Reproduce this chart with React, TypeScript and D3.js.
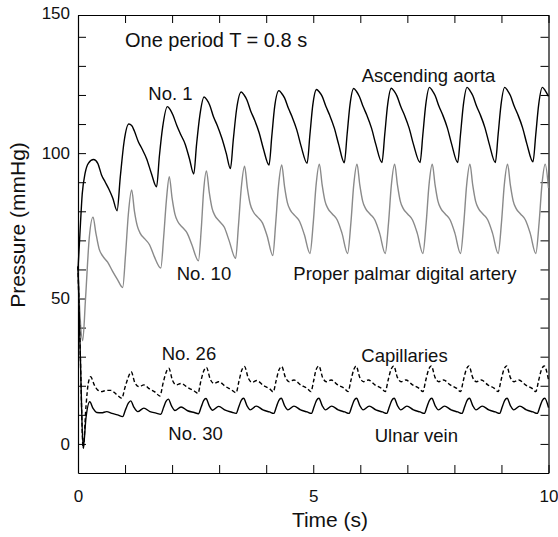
import * as d3 from "d3";
import { useEffect, useRef } from "react";

// Ascending aorta (No. 1), [time s, pressure mmHg]
const aorta: [number, number][] = [
  [0, 60], [0.04, 72], [0.09, 86], [0.15, 93], [0.22, 96.5], [0.33, 97.8], [0.42, 96.5], [0.5, 92.5], [0.58, 90], [0.66, 87.5], [0.74, 84.5], [0.83, 80.2],
  [0.9, 92], [0.98, 104], [1.08, 110], [1.14, 109.5], [1.2, 107.5], [1.28, 104], [1.36, 101.5], [1.46, 98], [1.56, 93], [1.67, 88.4],
  [1.73, 99], [1.8, 109], [1.9, 116], [1.96, 115], [2.02, 113], [2.1, 109.5], [2.18, 106.5], [2.28, 103], [2.37, 98], [2.46, 92.8],
  [2.52, 103], [2.59, 113], [2.68, 119.3], [2.74, 118.3], [2.8, 116.5], [2.88, 112.5], [2.96, 109.5], [3.06, 105], [3.15, 100], [3.24, 94.7],
  [3.3, 104.5], [3.37, 115], [3.47, 121], [3.53, 120], [3.59, 118.3], [3.67, 114.5], [3.75, 111.5], [3.85, 107], [3.94, 101.5], [4.06, 95.9],
  [4.12, 106], [4.18, 116], [4.27, 121.5], [4.33, 120.5], [4.39, 119], [4.47, 115.5], [4.55, 112.5], [4.65, 108], [4.74, 102.5], [4.87, 96.5],
  [4.93, 106.5], [4.99, 116.5], [5.07, 121.9], [5.13, 121], [5.19, 119.5], [5.27, 116], [5.35, 113], [5.45, 108.5], [5.54, 103], [5.66, 96.7],
  [5.72, 106.5], [5.78, 116.5], [5.86, 122.2], [5.92, 121.2], [5.98, 119.5], [6.06, 116], [6.14, 113], [6.24, 108.5], [6.33, 103], [6.46, 96.8],
  [6.52, 106.5], [6.58, 116.5], [6.66, 122.3], [6.72, 121.3], [6.78, 119.6], [6.86, 116], [6.94, 113], [7.04, 108.5], [7.13, 103], [7.27, 96.8],
  [7.33, 106.5], [7.39, 116.5], [7.47, 122.6], [7.53, 121.5], [7.59, 119.8], [7.67, 116.2], [7.75, 113.2], [7.85, 108.7], [7.94, 103.2], [8.07, 96.8],
  [8.13, 106.5], [8.19, 116.5], [8.27, 122.6], [8.33, 121.5], [8.39, 119.8], [8.47, 116.2], [8.55, 113.2], [8.65, 108.7], [8.74, 103.2], [8.87, 96.8],
  [8.93, 106.5], [8.99, 116.5], [9.07, 122.6], [9.13, 121.5], [9.19, 119.8], [9.27, 116.2], [9.35, 113.2], [9.45, 108.7], [9.54, 103.2], [9.67, 97],
  [9.73, 106.5], [9.79, 116.5], [9.87, 122.6], [9.93, 121.5], [10, 119.5],
];

// Proper palmar digital artery (No. 10)
const palmar: [number, number][] = [
  [0, 60], [0.04, 45], [0.1, 35.5], [0.16, 50], [0.24, 71], [0.32, 78], [0.38, 72.5], [0.45, 67], [0.53, 64.5], [0.63, 62.5], [0.73, 59.5], [0.84, 56.5], [0.95, 53.8],
  [1.01, 65], [1.07, 79], [1.14, 87.3], [1.2, 80], [1.26, 75], [1.32, 72.5], [1.42, 70.5], [1.52, 68.5], [1.62, 64.5], [1.76, 60.5],
  [1.82, 71], [1.88, 84], [1.94, 91.9], [2.0, 84.5], [2.06, 79], [2.12, 76.5], [2.22, 74.5], [2.32, 72.5], [2.42, 68.5], [2.56, 63],
  [2.62, 74], [2.67, 87], [2.73, 93.9], [2.79, 86.5], [2.85, 81], [2.91, 78.5], [3.01, 76.5], [3.11, 74.5], [3.21, 70], [3.35, 63.8],
  [3.41, 75], [3.47, 88], [3.54, 95.5], [3.6, 88], [3.66, 82.5], [3.72, 80], [3.82, 78], [3.92, 76], [4.02, 71.5], [4.14, 64.8],
  [4.2, 75.5], [4.26, 88.5], [4.33, 95.9], [4.39, 88.5], [4.45, 83], [4.51, 80.5], [4.61, 78.5], [4.71, 76.5], [4.81, 72], [4.93, 65.5],
  [5.0, 76], [5.06, 89], [5.13, 96.2], [5.19, 89], [5.25, 83.5], [5.31, 81], [5.41, 79], [5.51, 77], [5.61, 72.5], [5.73, 65.5],
  [5.8, 76], [5.86, 89], [5.93, 96.2], [5.99, 89], [6.05, 83.5], [6.11, 81], [6.21, 79], [6.31, 77], [6.41, 72.5], [6.53, 65.5],
  [6.6, 76], [6.66, 89], [6.73, 96.2], [6.79, 89], [6.85, 83.5], [6.91, 81], [7.01, 79], [7.11, 77], [7.21, 72.5], [7.33, 65.5],
  [7.4, 76], [7.46, 89], [7.53, 96.2], [7.59, 89], [7.65, 83.5], [7.71, 81], [7.81, 79], [7.91, 77], [8.01, 72.5], [8.13, 65.5],
  [8.2, 76], [8.26, 89], [8.33, 96.2], [8.39, 89], [8.45, 83.5], [8.51, 81], [8.61, 79], [8.71, 77], [8.81, 72.5], [8.93, 65.5],
  [9.0, 76], [9.06, 89], [9.13, 96.2], [9.19, 89], [9.25, 83.5], [9.31, 81], [9.41, 79], [9.51, 77], [9.61, 72.5], [9.73, 65.5],
  [9.8, 76], [9.86, 89], [9.93, 96.2], [10, 88],
];

// Capillaries (No. 26)
const capillaries: [number, number][] = [
  [0, 61], [0.05, 30], [0.11, -1.5], [0.17, 13], [0.22, 21], [0.27, 23.1], [0.34, 20.5], [0.42, 18.5], [0.5, 18], [0.6, 18.4], [0.7, 18.4], [0.82, 17], [0.93, 15.7],
  [1.0, 19.5], [1.07, 23], [1.13, 24.8], [1.21, 21], [1.3, 19.7], [1.4, 20.3], [1.52, 18.9], [1.64, 17.8], [1.74, 16.5],
  [1.81, 21], [1.87, 24.5], [1.93, 26], [2.01, 21.8], [2.09, 20.3], [2.19, 20.8], [2.33, 19.4], [2.46, 18.3], [2.55, 17.4],
  [2.61, 21.5], [2.67, 25], [2.73, 26.3], [2.81, 22.3], [2.89, 20.8], [2.99, 21.4], [3.13, 19.8], [3.26, 18.6], [3.36, 17.6],
  [3.42, 21.5], [3.48, 25.3], [3.54, 26.6], [3.62, 22.6], [3.7, 21.2], [3.8, 21.8], [3.94, 20.1], [4.07, 19], [4.15, 17.9],
  [4.21, 21.7], [4.27, 25.4], [4.33, 26.6], [4.41, 22.8], [4.49, 21.4], [4.59, 22], [4.73, 20.3], [4.87, 19.1], [4.95, 18],
  [5.01, 21.8], [5.06, 25.5], [5.12, 26.8], [5.2, 22.8], [5.28, 21.4], [5.38, 22], [5.52, 20.3], [5.66, 19.1], [5.74, 18],
  [5.8, 21.8], [5.86, 25.5], [5.91, 26.8], [5.99, 22.8], [6.07, 21.4], [6.17, 22], [6.31, 20.3], [6.45, 19.1], [6.53, 18],
  [6.59, 21.8], [6.65, 25.5], [6.71, 26.8], [6.79, 22.8], [6.87, 21.4], [6.97, 22], [7.11, 20.3], [7.25, 19.1], [7.33, 18],
  [7.39, 21.8], [7.45, 25.5], [7.51, 26.8], [7.59, 22.8], [7.67, 21.4], [7.77, 22], [7.91, 20.3], [8.05, 19.1], [8.13, 18],
  [8.19, 21.8], [8.25, 25.5], [8.31, 26.8], [8.39, 22.8], [8.47, 21.4], [8.57, 22], [8.71, 20.3], [8.85, 19.1], [8.93, 18],
  [8.99, 21.8], [9.05, 25.5], [9.11, 26.8], [9.19, 22.8], [9.27, 21.4], [9.37, 22], [9.51, 20.3], [9.65, 19.1], [9.73, 18],
  [9.79, 21.8], [9.85, 25.5], [9.91, 26.8], [10, 22],
];

// Ulnar vein (No. 30)
const ulnarVein: [number, number][] = [
  [0, 61], [0.05, 30], [0.11, -1.5], [0.17, 9], [0.25, 14.5], [0.32, 12.2], [0.4, 10.8], [0.5, 10.7], [0.61, 11.1], [0.72, 10.5], [0.84, 10], [0.95, 9.4],
  [1.01, 11.8], [1.07, 14], [1.12, 14.8], [1.19, 12.6], [1.27, 11.1], [1.4, 12.3], [1.53, 11.1], [1.66, 10.6], [1.76, 10.2],
  [1.82, 12.6], [1.87, 14.6], [1.92, 15.4], [1.99, 13], [2.06, 11.5], [2.19, 12.7], [2.33, 11.4], [2.47, 10.8], [2.56, 10.4],
  [2.62, 12.8], [2.67, 14.9], [2.72, 15.6], [2.79, 13.1], [2.86, 11.6], [2.99, 12.9], [3.13, 11.6], [3.27, 10.9], [3.36, 10.5],
  [3.42, 12.9], [3.47, 15], [3.52, 15.7], [3.59, 13.2], [3.66, 11.7], [3.79, 13], [3.93, 11.7], [4.07, 11], [4.16, 10.5],
  [4.22, 12.9], [4.27, 15], [4.32, 15.7], [4.39, 13.2], [4.46, 11.7], [4.59, 13], [4.73, 11.7], [4.87, 11], [4.96, 10.5],
  [5.02, 12.9], [5.07, 15], [5.12, 15.7], [5.19, 13.2], [5.26, 11.7], [5.39, 13], [5.53, 11.7], [5.67, 11], [5.76, 10.5],
  [5.82, 12.9], [5.87, 15], [5.92, 15.7], [5.99, 13.2], [6.06, 11.7], [6.19, 13], [6.33, 11.7], [6.47, 11], [6.56, 10.5],
  [6.62, 12.9], [6.67, 15], [6.72, 15.7], [6.79, 13.2], [6.86, 11.7], [6.99, 13], [7.13, 11.7], [7.27, 11], [7.36, 10.5],
  [7.42, 12.9], [7.47, 15], [7.52, 15.7], [7.59, 13.2], [7.66, 11.7], [7.79, 13], [7.93, 11.7], [8.07, 11], [8.16, 10.5],
  [8.22, 12.9], [8.27, 15], [8.32, 15.7], [8.39, 13.2], [8.46, 11.7], [8.59, 13], [8.73, 11.7], [8.87, 11], [8.96, 10.5],
  [9.02, 12.9], [9.07, 15], [9.12, 15.7], [9.19, 13.2], [9.26, 11.7], [9.39, 13], [9.53, 11.7], [9.67, 11], [9.76, 10.5],
  [9.82, 12.9], [9.87, 15], [9.92, 15.7], [10, 12.5],
];

const xTicks = d3.range(0, 11, 1);
const xTickLabels = [0, 5, 10];
const yTicks = d3.range(0, 150, 10);
const yTickLabels = [0, 50, 100, 150];

const FONT = "'Liberation Sans', Arial, Helvetica, sans-serif";

const App = () => {
  const svgRef = useRef<SVGSVGElement>(null);

  useEffect(() => {
    const width = 558;
    const height = 537;
    const left = 78;
    const right = 548.5;
    const top = 15;
    const bottom = 473;

    const svg = d3.select(svgRef.current);
    svg.selectAll("*").remove();
    svg.attr("width", width).attr("height", height);

    const x = d3.scaleLinear().domain([0, 10]).range([left, right]);
    const y = d3.scaleLinear().domain([-10, 147.5]).range([bottom, top]);

    const styleAxis = (g) => {
      g.selectAll("path").attr("stroke", "#000").attr("stroke-width", 1.2);
      g.selectAll("line").attr("stroke", "#000").attr("stroke-width", 1);
      g.selectAll("text")
        .attr("fill", "#111")
        .style("font-family", FONT)
        .style("font-size", "17px");
    };

    // bottom + top axes, inward ticks
    svg
      .append("g")
      .attr("transform", `translate(0, ${bottom})`)
      .call(
        d3
          .axisBottom(x)
          .tickValues(xTicks)
          .tickSizeInner(-8)
          .tickSizeOuter(0)
          .tickPadding(17)
          .tickFormat((d) => (xTickLabels.includes(+d) ? String(d) : ""))
      )
      .call(styleAxis);

    svg
      .append("g")
      .attr("transform", `translate(0, ${top})`)
      .call(d3.axisTop(x).tickValues(xTicks).tickSizeInner(-8).tickSizeOuter(0).tickFormat(() => ""))
      .call(styleAxis);

    // left + right axes
    svg
      .append("g")
      .attr("transform", `translate(${left}, 0)`)
      .call(
        d3
          .axisLeft(y)
          .tickValues(yTicks)
          .tickSizeInner(-8)
          .tickSizeOuter(0)
          .tickPadding(8)
          .tickFormat((d) => (yTickLabels.includes(+d) ? String(d) : ""))
      )
      .call(styleAxis);

    svg
      .append("g")
      .attr("transform", `translate(${right}, 0)`)
      .call(d3.axisRight(y).tickValues(yTicks).tickSizeInner(-8).tickSizeOuter(0).tickFormat(() => ""))
      .call(styleAxis);

    // top label sits on the frame edge
    svg
      .append("text")
      .attr("x", left - 8)
      .attr("y", y(y.domain()[1]) - 1.5)
      .attr("dy", "0.32em")
      .attr("text-anchor", "end")
      .attr("fill", "#111")
      .style("font-family", FONT)
      .style("font-size", "17px")
      .text(yTickLabels[3]);

    // axis titles
    svg
      .append("text")
      .attr("x", 330)
      .attr("y", 527)
      .attr("text-anchor", "middle")
      .attr("fill", "#111")
      .style("font-family", FONT)
      .style("font-size", "21px")
      .text("Time (s)");

    svg
      .append("text")
      .attr("transform", "translate(25, 225) rotate(-90)")
      .attr("text-anchor", "middle")
      .attr("fill", "#111")
      .style("font-family", FONT)
      .style("font-size", "21px")
      .text("Pressure (mmHg)");

    // curves
    const line = d3
      .line<[number, number]>()
      .x((d) => x(d[0]))
      .y((d) => y(d[1]))
      .curve(d3.curveMonotoneX);

    const series = [
      { data: palmar, color: "#8a8a8a", dash: null },
      { data: aorta, color: "#000", dash: null },
      { data: capillaries, color: "#000", dash: "4,2.5" },
      { data: ulnarVein, color: "#000", dash: null },
    ];

    series.forEach((s) => {
      svg
        .append("path")
        .datum(s.data)
        .attr("d", line)
        .attr("fill", "none")
        .attr("stroke", s.color)
        .attr("stroke-width", 1.4)
        .attr("stroke-linejoin", "round")
        .attr("stroke-dasharray", s.dash);
    });

    // annotations
    const notes = [
      { text: "One period T = 0.8 s", x: 125, y: 46.7, size: 20 },
      { text: "No. 1", x: 148.3, y: 100, size: 18.5 },
      { text: "Ascending aorta", x: 361.7, y: 81.7, size: 18.5 },
      { text: "No. 10", x: 176.7, y: 280, size: 18.5 },
      { text: "Proper palmar digital artery", x: 293.3, y: 280, size: 18.5 },
      { text: "No. 26", x: 161.7, y: 360, size: 18.5 },
      { text: "Capillaries", x: 361.3, y: 361.7, size: 18.5 },
      { text: "No. 30", x: 168.3, y: 440, size: 18.5 },
      { text: "Ulnar vein", x: 374.7, y: 441.7, size: 18.5 },
    ];

    svg
      .selectAll(".note")
      .data(notes)
      .enter()
      .append("text")
      .attr("class", "note")
      .attr("x", (d) => d.x)
      .attr("y", (d) => d.y)
      .attr("fill", "#111")
      .style("font-family", FONT)
      .style("font-size", (d) => `${d.size}px`)
      .text((d) => d.text);
  }, []);

  return (
    <svg
      ref={svgRef}
      style={{ position: "absolute", left: 0, top: 0, background: "#fff" }}
      xmlns="http://www.w3.org/2000/svg"
    />
  );
};

export default App;
